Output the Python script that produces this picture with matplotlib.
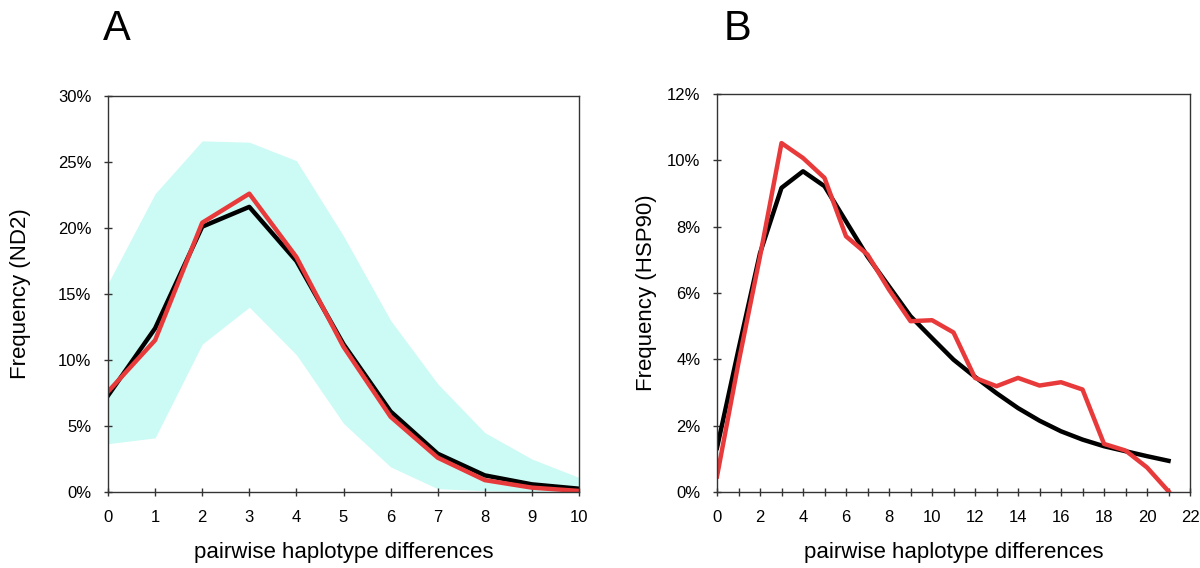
import matplotlib.pyplot as plt
from matplotlib.ticker import FuncFormatter

plt.rcParams["font.family"] = ["Liberation Sans", "DejaVu Sans"]

# Panel A: ND2
x_a = list(range(11))
nd2_expected = [7.3, 12.4, 20.1, 21.6, 17.5, 11.2, 6.1, 2.9, 1.26, 0.58, 0.25]
nd2_observed = [7.6, 11.5, 20.4, 22.6, 17.8, 11.0, 5.7, 2.6, 0.9, 0.33, 0.08]
nd2_upper = [15.8, 22.6, 26.6, 26.5, 25.1, 19.4, 13.0, 8.2, 4.5, 2.5, 1.1]
nd2_lower = [3.66, 4.1, 11.2, 14.0, 10.4, 5.2, 1.9, 0.25, 0.1, 0.0, 0.0]

# Panel B: HSP90
x_b = list(range(22))
hsp_expected = [1.33, 4.3, 7.2, 9.17, 9.67, 9.22, 8.16, 7.1, 6.2, 5.3, 4.64,
                3.99, 3.47, 2.98, 2.53, 2.15, 1.83, 1.58, 1.38, 1.23, 1.08, 0.94]
hsp_observed = [0.47, 3.9, 7.1, 10.52, 10.07, 9.47, 7.71, 7.16, 6.1, 5.15, 5.18,
                4.81, 3.44, 3.19, 3.44, 3.21, 3.31, 3.09, 1.45, 1.25, 0.74, 0.02]

RED = "#e83a3a"
CYAN = "#ccfbf5"

pct = FuncFormatter(lambda v, _: f"{v:.0f}%")

fig = plt.figure(figsize=(12, 5.68), dpi=100)
ax1 = fig.add_axes([0.09, 0.1338, 0.3925, 0.6972])
ax2 = fig.add_axes([0.5975, 0.1338, 0.3942, 0.7007])


def style(ax):
    for s in ax.spines.values():
        s.set_linewidth(1.0)
        s.set_color("#333333")
    ax.tick_params(which="both", direction="inout", length=6, width=1,
                   color="#333333")
    ax.tick_params(axis="y", labelsize=12, pad=9)
    ax.tick_params(axis="x", labelsize=12, pad=10)
    ax.yaxis.set_major_formatter(pct)
    ax.set_xlabel("pairwise haplotype differences", fontsize=16, labelpad=12)


# Plot A
ax1.fill_between(x_a, nd2_lower, nd2_upper, color=CYAN, linewidth=0)
ax1.plot(x_a, nd2_expected, color="black", lw=3.2)
ax1.plot(x_a, nd2_observed, color=RED, lw=3.2)
ax1.set_xlim(0, 10)
ax1.set_ylim(0, 30)
ax1.set_xticks(range(0, 11))
ax1.set_yticks(range(0, 31, 5))
ax1.set_ylabel("Frequency (ND2)", fontsize=16, labelpad=19)
style(ax1)
fig.text(0.086, 0.93, "A", fontsize=30)

# Plot B
ax2.plot(x_b, hsp_expected, color="black", lw=3.2)
ax2.plot(x_b, hsp_observed, color=RED, lw=3.2)
ax2.set_xlim(0, 22)
ax2.set_ylim(0, 12)
ax2.set_xticks(range(0, 23, 2))
ax2.set_xticks(range(0, 23), minor=True)
ax2.set_yticks(range(0, 13, 2))
ax2.set_ylabel("Frequency (HSP90)", fontsize=16, labelpad=7)
style(ax2)
fig.text(0.603, 0.93, "B", fontsize=30)

fig.savefig("out.png", dpi=100)
